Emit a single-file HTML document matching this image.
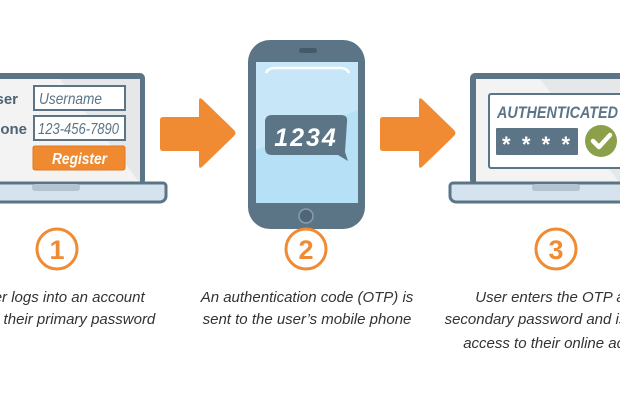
<!DOCTYPE html>
<html><head><meta charset="utf-8"><style>
html,body{margin:0;padding:0;background:#fff;}
svg{display:block}
.t{font-family:"Liberation Sans Narrow","Liberation Sans",sans-serif;font-style:italic;font-size:15px;fill:#333;}
</style></head><body>
<svg width="620" height="400" viewBox="0 0 620 400" xmlns="http://www.w3.org/2000/svg">
<!-- Laptop 1 -->
<rect x="-20" y="73" width="165" height="112" rx="5" fill="#5b7587"/>
<polygon points="-15,79 140,79 140,183 -15,183" fill="#e6e7e8"/>
<polygon points="-15,79 60,79 140,183 -15,183" fill="#f3f3f3"/>
<path d="M-20,183 H163 a3,3 0 0 1 3,3 V196 a6,6 0 0 1 -6,6 H-20 Z" fill="#d4e3ee" stroke="#5b7587" stroke-width="3"/>
<rect x="32" y="184" width="48" height="7" rx="3" fill="#b3c3cf"/>
<text x="18" y="104" font-family="Liberation Sans" font-weight="bold" font-size="15" fill="#4e6373" text-anchor="end">User</text>
<text x="27" y="134" font-family="Liberation Sans" font-weight="bold" font-size="15" fill="#4e6373" text-anchor="end">Phone</text>
<rect x="34" y="86" width="91" height="24" fill="#fff" stroke="#5b7587" stroke-width="2"/>
<text x="39" y="104" class="t" style="fill:#5b7587;font-size:16px" textLength="63" lengthAdjust="spacingAndGlyphs">Username</text>
<rect x="34" y="116" width="91" height="24" fill="#fff" stroke="#5b7587" stroke-width="2"/>
<text x="38" y="134" class="t" style="fill:#5b7587;font-size:16px" textLength="81" lengthAdjust="spacingAndGlyphs">123-456-7890</text>
<rect x="33" y="146" width="92" height="24" rx="2" fill="#f08a30" stroke="#e07a20" stroke-width="1"/>
<text x="52" y="164" class="t" style="fill:#fff;font-weight:bold;font-size:16px" textLength="55" lengthAdjust="spacingAndGlyphs">Register</text>
<!-- Arrow 1 -->
<path d="M163,117 H199 V101 Q199,96 203,100 L234,130 Q237,133 234,136 L203,166 Q199,170 199,165 V151 H163 Q160,151 160,148 V120 Q160,117 163,117 Z" fill="#f08b33"/>
<!-- Phone -->
<rect x="248" y="40" width="117" height="189" rx="22" fill="#5b7587"/>
<rect x="299" y="48" width="18" height="5" rx="2.5" fill="#44596a"/>
<rect x="256" y="62" width="102" height="141" fill="#c7e6f7"/>
<polygon points="256,150 358,110 358,203 256,203" fill="#a9dcf5" opacity="0.6"/>
<path d="M266,73 Q268,68 275,68 H340 Q347,68 349,73" fill="none" stroke="#fff" stroke-width="2.5"/>
<path d="M272,115 H341 Q348,115 347,122 L345,152 L348,161 L338,155 H272 Q265,155 265,148 V122 Q265,115 272,115 Z" fill="#5b7587"/>
<text x="306" y="146" text-anchor="middle" font-family="Liberation Sans" font-style="italic" font-weight="bold" font-size="25" fill="#fff" letter-spacing="2">1234</text>
<circle cx="306" cy="216" r="7" fill="#4e6677" stroke="#8a9dab" stroke-width="1.5"/>
<!-- Arrow 2 -->
<path d="M383,117 H419 V101 Q419,96 423,100 L454,130 Q457,133 454,136 L423,166 Q419,170 419,165 V151 H383 Q380,151 380,148 V120 Q380,117 383,117 Z" fill="#f08b33"/>
<!-- Laptop 2 -->
<rect x="470" y="73" width="170" height="112" rx="5" fill="#5b7587"/>
<rect x="476" y="79" width="160" height="104" fill="#e6e7e8"/>
<polygon points="476,79 540,79 620,183 476,183" fill="#f3f3f3"/>
<path d="M640,183 H453 a3,3 0 0 0 -3,3 V196 a6,6 0 0 0 6,6 H640 Z" fill="#d4e3ee" stroke="#5b7587" stroke-width="3"/>
<rect x="532" y="184" width="48" height="7" rx="3" fill="#b3c3cf"/>
<rect x="489" y="94" width="140" height="74" rx="2" fill="#fff" stroke="#5b7587" stroke-width="2"/>
<text x="497" y="118" font-family="Liberation Sans" font-style="italic" font-weight="bold" font-size="17" fill="#5b7587" textLength="121" lengthAdjust="spacingAndGlyphs">AUTHENTICATED</text>
<rect x="496" y="128" width="82" height="27" rx="1" fill="#5b7587"/>
<text x="502" y="152" font-family="Liberation Sans" font-weight="bold" font-size="22" fill="#fff" textLength="68" lengthAdjust="spacing">****</text>
<circle cx="601" cy="141" r="16" fill="#8ca04a"/>
<path d="M593,141 L599,147 L610,135" fill="none" stroke="#fff" stroke-width="4.5" stroke-linecap="round" stroke-linejoin="round"/>
<!-- Circles -->
<g fill="none" stroke="#f08b33" stroke-width="3">
<circle cx="57" cy="249" r="20"/><circle cx="306" cy="249" r="20"/><circle cx="556" cy="249" r="20"/>
</g>
<g font-family="Liberation Sans Narrow,Liberation Sans,sans-serif" font-weight="bold" font-size="27" fill="#f08b33" text-anchor="middle">
<text x="57" y="259">1</text><text x="306" y="259">2</text><text x="556" y="259">3</text>
</g>
<!-- Captions -->
<g text-anchor="middle">
<text class="t" x="60" y="302">User logs into an account</text>
<text class="t" x="64" y="324">with their primary password</text>
<text class="t" x="307" y="302">An authentication code (OTP) is</text>
<text class="t" x="307" y="324">sent to the user’s mobile phone</text>
<text class="t" x="560" y="302">User enters the OTP as a</text>
<text class="t" x="563" y="324">secondary password and is granted</text>
<text class="t" x="562" y="348">access to their online account</text>
</g>
</svg>
</body></html>
